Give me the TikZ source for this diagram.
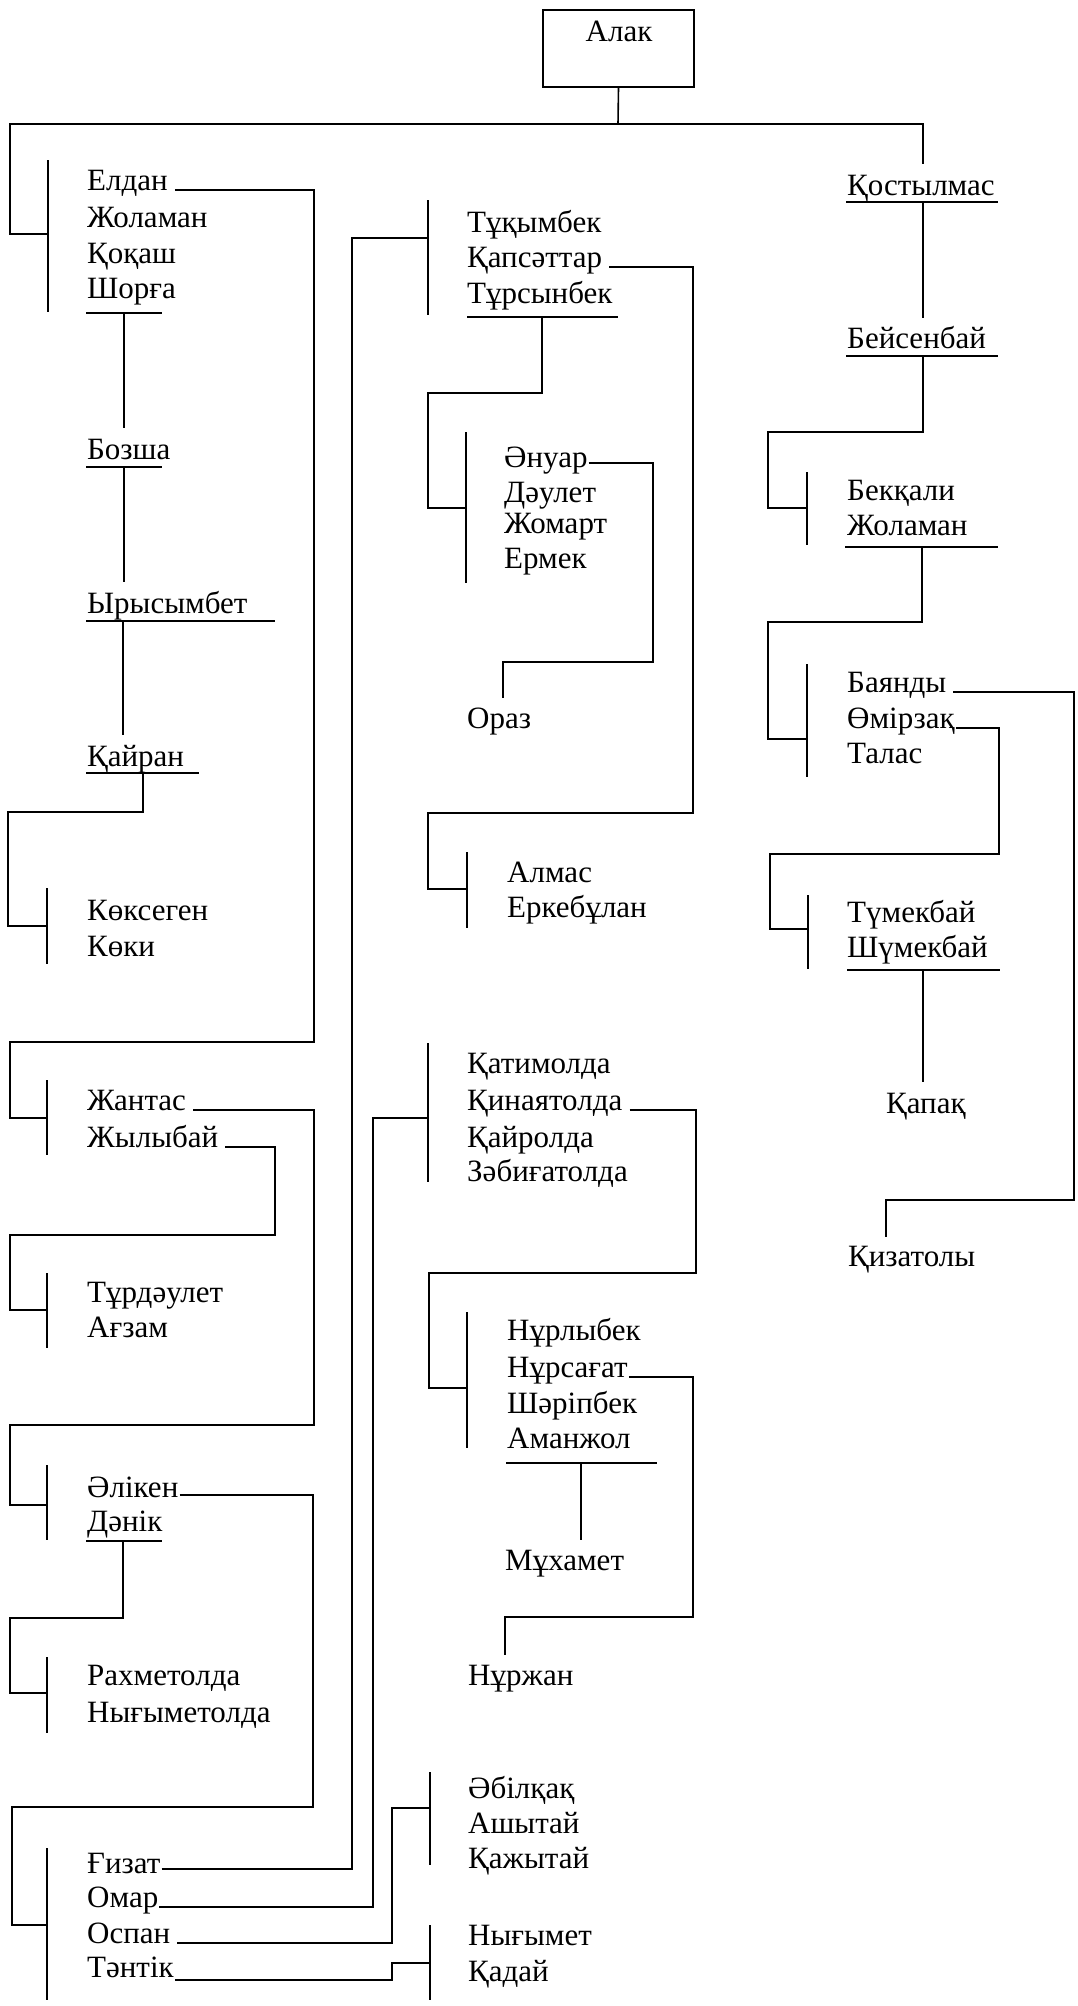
\documentclass[tikz,border=0pt]{standalone}
\usepackage{fontspec}
\setmainfont{Liberation Serif}
\begin{document}
\begin{tikzpicture}[x=1pt,y=-1pt,
  ln/.style={line width=1.6pt, line join=miter},
  nm/.style={anchor=base west, inner sep=0pt, font=\fontsize{31}{36}\selectfont}]
\useasboundingbox (0,0) rectangle (1077,2006);

% root
\node[draw, line width=1.6pt, minimum width=151pt, minimum height=77pt, inner sep=0pt] (alak) at (618.5,48.5) {};
\node[anchor=base, inner sep=0pt, font=\fontsize{31}{36}\selectfont] (alakt) at (619,41) {Алак};
\draw[ln] (alak.south) -- (618,124);
\draw[ln] (48,234) -- (10,234) -- (10,124) -- (923,124) -- (923,164);

% ---------- left column ----------
\node[nm] (eldan) at (87,190) {Елдан};
\node[nm] (zholaman) at (87,227) {Жоламан};
\node[nm] (kokash) at (87,263) {Қоқаш};
\node[nm] (shorga) at (87,298) {Шорға};
\node[nm] (bozsha) at (87,459) {Бозша};
\node[nm] (yrysymbet) at (87,613) {Ырысымбет};
\node[nm] (kairan) at (87,766) {Қайран};
\node[nm] (koksegen) at (87,920) {Көксеген};
\node[nm] (koki) at (87,956) {Көки};
\node[nm] (zhantas) at (87,1110) {Жантас};
\node[nm] (zhylybai) at (87,1147) {Жылыбай};
\node[nm] (turdaulet) at (87,1302) {Тұрдәулет};
\node[nm] (agzam) at (87,1337) {Ағзам};
\node[nm] (aliken) at (87,1497) {Әлікен};
\node[nm] (danik) at (87,1531) {Дәнік};
\node[nm] (rakhmet) at (87,1685) {Рахметолда};
\node[nm] (nigymetolda) at (87,1722) {Нығыметолда};
\node[nm] (gizat) at (87,1873) {Ғизат};
\node[nm] (omar) at (87,1907) {Омар};
\node[nm] (ospan) at (87,1943) {Оспан};
\node[nm] (tantik) at (87,1977) {Тәнтік};

\draw[ln] (48,160) -- (48,312);
\draw[ln] (86,313) -- (162,313);
\draw[ln] (124,313) -- (124,428);
\draw[ln] (86,467) -- (162,467);
\draw[ln] (124,467) -- (124,582);
\draw[ln] (86,621) -- (275,621);
\draw[ln] (123,621) -- (123,735);
\draw[ln] (86,773) -- (199,773);
\draw[ln] (143,773) -- (143,812) -- (8,812) -- (8,926) -- (47,926);
\draw[ln] (47,888) -- (47,964);

\draw[ln] ([xshift=7pt]eldan.base east) -| (314,1042) -| (10,1118) -- (47,1118);
\draw[ln] (47,1080) -- (47,1155);
\draw[ln] ([xshift=7pt]zhantas.base east) -| (314,1425) -| (10,1505) -- (47,1505);
\draw[ln] (47,1465) -- (47,1540);
\draw[ln] ([xshift=7pt]zhylybai.base east) -| (275,1235) -| (10,1310) -- (47,1310);
\draw[ln] (47,1273) -- (47,1348);
\draw[ln] ([xshift=1pt,yshift=2pt]aliken.base east) -| (313,1807) -| (12,1925) -- (47,1925);
\draw[ln] (47,1848) -- (47,2000);
\draw[ln] (86,1541) -- (162,1541);
\draw[ln] (123,1541) -- (123,1618) -| (10,1693) -- (47,1693);
\draw[ln] (47,1657) -- (47,1733);

% links from the bottom group to the middle column
\draw[ln] ([xshift=1pt,yshift=4pt]gizat.base east) -| (352,238) -- (428,238);
\draw[ln] ([xshift=1pt]omar.base east) -| (373,1118) -- (428,1118);
\draw[ln] ([xshift=7pt]ospan.base east) -| (392,1808) -- (430,1808);
\draw[ln] ([xshift=1pt,yshift=-3pt]tantik.base east) -| (392,1963) -- (430,1963);

% ---------- middle column ----------
\node[nm] (tukymbek) at (467,232) {Тұқымбек};
\node[nm] (kapsattar) at (467,267) {Қапсәттар};
\node[nm] (tursynbek) at (467,303) {Тұрсынбек};
\node[nm] (anuar) at (504,467) {Әнуар};
\node[nm] (daulet) at (504,502) {Дәулет};
\node[nm] (zhomart) at (504,533) {Жомарт};
\node[nm] (ermek) at (504,568) {Ермек};
\node[nm] (oraz) at (467,728) {Ораз};
\node[nm] (almas) at (507,882) {Алмас};
\node[nm] (erkebulan) at (507,917) {Еркебұлан};
\node[nm] (katimolda) at (467,1073) {Қатимолда};
\node[nm] (kinayat) at (467,1110) {Қинаятолда};
\node[nm] (kairolda) at (467,1147) {Қайролда};
\node[nm] (zabigat) at (467,1181) {Зәбиғатолда};
\node[nm] (nurlybek) at (507,1340) {Нұрлыбек};
\node[nm] (nursagat) at (507,1377) {Нұрсағат};
\node[nm] (sharipbek) at (507,1413) {Шәріпбек};
\node[nm] (amanzhol) at (507,1448) {Аманжол};
\node[nm] (mukhamet) at (505,1570) {Мұхамет};
\node[nm] (nurzhan) at (468,1685) {Нұржан};
\node[nm] (abilkak) at (468,1798) {Әбілқақ};
\node[nm] (ashytai) at (468,1833) {Ашытай};
\node[nm] (kazhytai) at (468,1868) {Қажытай};
\node[nm] (nigymet) at (468,1945) {Нығымет};
\node[nm] (kadai) at (468,1981) {Қадай};

\draw[ln] (428,200) -- (428,315);
\draw[ln] (467,317) -- (618,317);
\draw[ln] (542,317) -- (542,393) -| (428,508) -- (466,508);
\draw[ln] (466,432) -- (466,583);
\draw[ln] ([xshift=1pt,yshift=4pt]anuar.base east) -| (653,662) -| (503,698);
\draw[ln] ([xshift=7pt]kapsattar.base east) -| (693,813) -| (428,889) -- (467,889);
\draw[ln] (467,852) -- (467,928);
\draw[ln] (428,1043) -- (428,1182);
\draw[ln] ([xshift=7pt]kinayat.base east) -| (696,1273) -| (429,1388) -- (467,1388);
\draw[ln] (467,1312) -- (467,1448);
\draw[ln] ([xshift=1pt]nursagat.base east) -| (693,1617) -| (505,1655);
\draw[ln] (506,1463) -- (657,1463);
\draw[ln] (581,1463) -- (581,1540);
\draw[ln] (430,1772) -- (430,1865);
\draw[ln] (430,1925) -- (430,2000);

% ---------- right column ----------
\node[nm] (kostylmas) at (847,195) {Қостылмас};
\node[nm] (beisenbai) at (847,348) {Бейсенбай};
\node[nm] (bekkali) at (847,500) {Бекқали};
\node[nm] (zholaman2) at (847,535) {Жоламан};
\node[nm] (bayandy) at (847,692) {Баянды};
\node[nm] (omirzak) at (847,728) {Өмірзақ};
\node[nm] (talas) at (847,763) {Талас};
\node[nm] (tumekbai) at (847,922) {Түмекбай};
\node[nm] (shumekbai) at (847,957) {Шүмекбай};
\node[nm] (kapak) at (886,1113) {Қапақ};
\node[nm] (kizatoly) at (848,1266) {Қизатолы};

\draw[ln] (846,202) -- (998,202);
\draw[ln] (923,202) -- (923,318);
\draw[ln] (846,356) -- (998,356);
\draw[ln] (923,356) -- (923,432) -| (768,508) -- (807,508);
\draw[ln] (807,472) -- (807,545);
\draw[ln] (845,547) -- (998,547);
\draw[ln] (922,547) -- (922,622) -| (768,739) -- (807,739);
\draw[ln] (807,664) -- (807,777);
\draw[ln] ([xshift=7pt]bayandy.base east) -| (1074,1200) -| (886,1237);
\draw[ln] ([xshift=1pt]omirzak.base east) -| (999,854) -| (770,929) -- (808,929);
\draw[ln] (808,895) -- (808,969);
\draw[ln] (847,970) -- (1000,970);
\draw[ln] (923,970) -- (923,1082);
\end{tikzpicture}
\end{document}
